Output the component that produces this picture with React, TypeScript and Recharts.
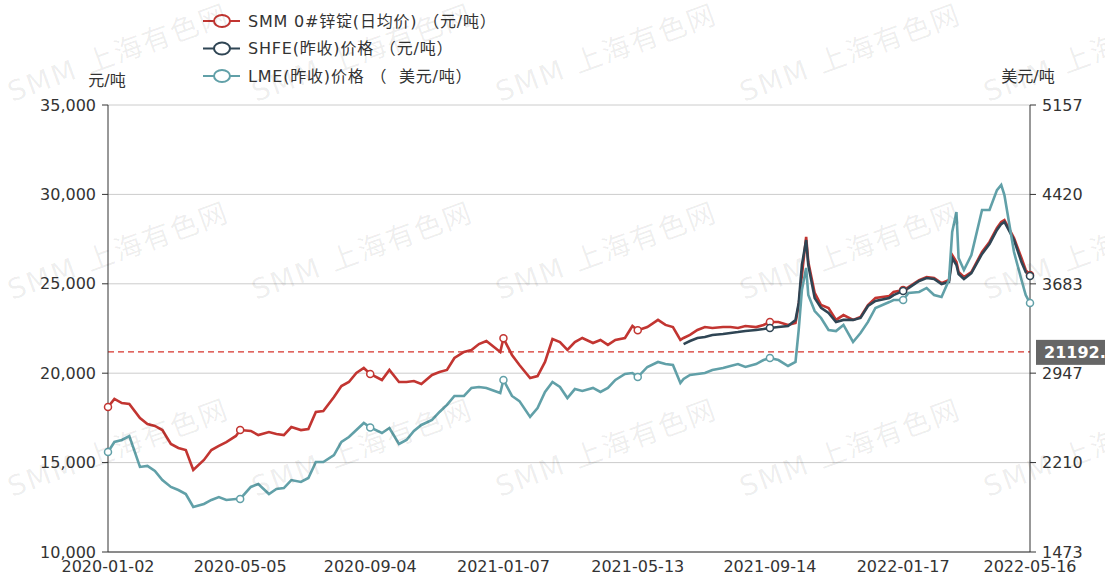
import React from 'react';
import { LineChart, Line, XAxis, YAxis, CartesianGrid, ReferenceLine } from 'recharts';

// ---- data ----
const dates: string[] = [
  '2020-01-02', '2020-01-08', '2020-01-15', '2020-01-22',
  '2020-02-01', '2020-02-08', '2020-02-15', '2020-02-22',
  '2020-03-01', '2020-03-08', '2020-03-15', '2020-03-22',
  '2020-04-01', '2020-04-08', '2020-04-15', '2020-04-22',
  '2020-05-01', '2020-05-05', '2020-05-15', '2020-05-22',
  '2020-06-01', '2020-06-08', '2020-06-15', '2020-06-22',
  '2020-07-01', '2020-07-08', '2020-07-15', '2020-07-22',
  '2020-08-01', '2020-08-08', '2020-08-15', '2020-08-22', '2020-08-29',
  '2020-09-04', '2020-09-15', '2020-09-22',
  '2020-10-01', '2020-10-08', '2020-10-15', '2020-10-22',
  '2020-11-01', '2020-11-08', '2020-11-15', '2020-11-22',
  '2020-12-01', '2020-12-08', '2020-12-15', '2020-12-22',
  '2021-01-04', '2021-01-07', '2021-01-15', '2021-01-22',
  '2021-02-01', '2021-02-08', '2021-02-15', '2021-02-22',
  '2021-03-01', '2021-03-08', '2021-03-15', '2021-03-22',
  '2021-04-01', '2021-04-08', '2021-04-15', '2021-04-22',
  '2021-05-01', '2021-05-08', '2021-05-13', '2021-05-22',
  '2021-06-01', '2021-06-08', '2021-06-15', '2021-06-22', '2021-06-25',
  '2021-07-01', '2021-07-08', '2021-07-15', '2021-07-22',
  '2021-08-01', '2021-08-08', '2021-08-15', '2021-08-22',
  '2021-09-01', '2021-09-08', '2021-09-14', '2021-09-22',
  '2021-10-01', '2021-10-08', '2021-10-11', '2021-10-14', '2021-10-18', '2021-10-20', '2021-10-26',
  '2021-11-01', '2021-11-08', '2021-11-15', '2021-11-22',
  '2021-12-01', '2021-12-08', '2021-12-15', '2021-12-22',
  '2022-01-04', '2022-01-08', '2022-01-17', '2022-01-22',
  '2022-02-01', '2022-02-08', '2022-02-15', '2022-02-22',
  '2022-03-01', '2022-03-04', '2022-03-08', '2022-03-10', '2022-03-15', '2022-03-22',
  '2022-04-01', '2022-04-08', '2022-04-15', '2022-04-19', '2022-04-22',
  '2022-05-01', '2022-05-08', '2022-05-12', '2022-05-16',
];

const smmPrice: number[] = [
  18110, 18560, 18330, 18280,
  17490, 17160, 17050, 16820,
  16040, 15820, 15700, 14590,
  15150, 15700, 15930, 16150,
  16490, 16820, 16770, 16540,
  16710, 16600, 16540, 16990,
  16820, 16880, 17830, 17890,
  18670, 19280, 19510, 20010, 20290,
  19960, 19620, 20180,
  19510, 19510, 19560, 19400,
  19900, 20070, 20180, 20850,
  21190, 21300, 21630, 21800,
  21190, 21950, 21020, 20460,
  19730, 19840, 20630, 21910,
  21740, 21300, 21740, 21970,
  21690, 21860, 21580, 21860,
  21970, 22640, 22400, 22580,
  22980, 22700, 22580, 21860, 21970,
  22140, 22420, 22580, 22530,
  22580, 22580, 22530, 22640,
  22580, 22700, 22860, 22860,
  22700, 22810, 23810, 25490, 27620, 26220, 24490,
  23810, 23650, 22980, 23250,
  22980, 23140, 23810, 24210,
  24320, 24540, 24650, 24820,
  25210, 25380, 25320, 25040,
  25210, 26610, 26220, 25660, 25380, 25660,
  26780, 27340, 28120, 28460, 28570,
  27560, 26440, 25770, 25490,
];

const shfeStart = '2021-06-25';
const shfePrice: number[] = [
  21630,
  21800, 21970, 22020, 22140,
  22190, 22250, 22300, 22360,
  22420, 22470, 22530, 22580,
  22640, 22980, 23930, 26050, 27450, 26050, 24210,
  23650, 23370, 22860, 22980,
  22980, 23090, 23760, 24040,
  24210, 24370, 24600, 24760,
  25160, 25320, 25270, 24990,
  25100, 26440, 26050, 25550, 25270, 25600,
  26670, 27230, 28010, 28340, 28460,
  27450, 26220, 25660, 25440,
];

const lmePrice: number[] = [
  2297, 2380, 2396, 2429,
  2174, 2182, 2141, 2066,
  2009, 1984, 1951, 1844,
  1869, 1902, 1926, 1902,
  1910, 1910, 2009, 2033,
  1951, 1992, 2000, 2066,
  2050, 2083, 2215, 2215,
  2272, 2380, 2421, 2478, 2536,
  2500, 2454, 2495,
  2363, 2396, 2470, 2520,
  2561, 2627, 2685, 2759,
  2759, 2825, 2833, 2825,
  2783, 2891, 2759, 2717,
  2586, 2660, 2792, 2874,
  2833, 2742, 2816, 2800,
  2825, 2792, 2825, 2891,
  2940, 2948, 2915, 2998,
  3039, 3022, 3014, 2866, 2899,
  2932, 2940, 2948, 2973,
  2989, 3006, 3022, 2998,
  3022, 3055, 3072, 3055,
  3006, 3039, 3303, 3632, 3814, 3591, 3459,
  3402, 3303, 3294, 3344,
  3204, 3278, 3369, 3484,
  3533, 3550, 3550, 3608,
  3616, 3649, 3591, 3575,
  3715, 4110, 4275, 3896, 3797, 3921,
  4292, 4292, 4456, 4498, 4415,
  3945, 3715, 3591, 3525,
];

const xTickLabels: string[] = [
  '2020-01-02', '2020-05-05', '2020-09-04', '2021-01-07',
  '2021-05-13', '2021-09-14', '2022-01-17', '2022-05-16',
];
const leftTicks: number[] = [10000, 15000, 20000, 25000, 30000, 35000];
const rightTicks: number[] = [1473, 2210, 2947, 3683, 4420, 5157];
const avgLine = 21192.8;
const seriesNames: string[] = [
  'SMM 0#锌锭(日均价) （元/吨）',
  'SHFE(昨收)价格 （元/吨）',
  'LME(昨收)价格 （  美元/吨）',
];
const leftUnit = '元/吨';
const rightUnit = '美元/吨';
const watermarkText = 'SMM 上海有色网';

const colors = ['#c23531', '#2f4554', '#61a0a8'];
const FONT = "'DejaVu Sans', 'Noto Sans CJK SC', sans-serif";

const toTime = (d: string) => Date.parse(d + 'T00:00:00Z');
const fmtDate = (t: number) => new Date(t).toISOString().slice(0, 10);

const shfeOffset = dates.indexOf(shfeStart);
const data = dates.map((d, i) => ({
  date: d,
  t: toTime(d),
  smm: smmPrice[i],
  shfe: i >= shfeOffset ? shfePrice[i - shfeOffset] : null,
  lme: lmePrice[i],
}));
const markerSet = new Set(xTickLabels);

const makeDot = (color: string) => (props: any) => {
  const { cx, cy, payload, index } = props;
  if (cx == null || cy == null || Number.isNaN(cy) || !payload || !markerSet.has(payload.date)) {
    return <g key={`d${index}`} />;
  }
  return <circle key={`d${index}`} cx={cx} cy={cy} r={3.5} fill="#fff" stroke={color} strokeWidth={1.5} />;
};

const RefLabel = (props: any) => {
  const vb = props.viewBox || {};
  const x = (vb.x ?? 108) + (vb.width ?? 922) + 6;
  const y = vb.y ?? 352;
  return (
    <g>
      <rect x={x} y={y - 12} width={80} height={25} fill="#666" />
      <text x={x + 8} y={y + 1} dominantBaseline="central" fill="#fff" fontWeight="bold" fontSize={16} fontFamily={FONT}>
        {String(avgLine)}
      </text>
    </g>
  );
};

const wmX = [12, 256, 500, 744, 988];
const wmY = [102, 300, 497];

export default function App() {
  return (
    <div style={{ position: 'absolute', left: 0, top: 0, width: 1105, height: 574, background: '#fff', fontFamily: FONT }}>
      <LineChart width={1105} height={574} data={data} margin={{ top: 105, right: 0, bottom: 0, left: 0 }}>
        <CartesianGrid yAxisId="left" vertical={false} stroke="#ccc" />
        <XAxis
          dataKey="t"
          type="number"
          domain={[toTime(dates[0]), toTime(dates[dates.length - 1])]}
          ticks={xTickLabels.map(toTime)}
          tickFormatter={fmtDate}
          interval={0}
          tickLine={false}
          tickMargin={3}
          height={22}
          axisLine={{ stroke: '#333' }}
          tick={{ fill: '#333', fontSize: 16 }}
        />
        <YAxis
          yAxisId="left"
          width={108}
          domain={[10000, 35000]}
          ticks={leftTicks}
          tickFormatter={(v: number) => v.toLocaleString('en-US')}
          tickSize={6}
          tickMargin={6}
          axisLine={{ stroke: '#333' }}
          tickLine={{ stroke: '#333' }}
          tick={{ fill: '#333', fontSize: 16 }}
          interval={0}
        />
        <YAxis
          yAxisId="right"
          orientation="right"
          width={75}
          domain={[1473, 5157]}
          ticks={rightTicks}
          tickSize={6}
          tickMargin={6}
          axisLine={{ stroke: '#333' }}
          tickLine={{ stroke: '#333' }}
          tick={{ fill: '#333', fontSize: 16 }}
          interval={0}
        />
        <ReferenceLine
          yAxisId="left"
          y={avgLine}
          stroke="#d6332c"
          strokeWidth={1.2}
          strokeDasharray="6 4"
          label={<RefLabel />}
        />
        <Line yAxisId="left" type="linear" dataKey="smm" name={seriesNames[0]} stroke={colors[0]} strokeWidth={2.6}
          dot={makeDot(colors[0])} activeDot={false} isAnimationActive={false} />
        <Line yAxisId="left" type="linear" dataKey="shfe" name={seriesNames[1]} stroke={colors[1]} strokeWidth={2.6}
          dot={makeDot(colors[1])} activeDot={false} connectNulls={false} isAnimationActive={false} />
        <Line yAxisId="right" type="linear" dataKey="lme" name={seriesNames[2]} stroke={colors[2]} strokeWidth={2.6}
          dot={makeDot(colors[2])} activeDot={false} isAnimationActive={false} />
      </LineChart>
      <svg width={1105} height={574} style={{ position: 'absolute', left: 0, top: 0, pointerEvents: 'none' }}>
        {seriesNames.map((name, i) => {
          const cy = 21 + i * 27.5;
          return (
            <g key={name}>
              <line x1={203} x2={240} y1={cy} y2={cy} stroke={colors[i]} strokeWidth={2} />
              <ellipse cx={222} cy={cy} rx={8} ry={6} fill="#fff" stroke={colors[i]} strokeWidth={2} />
              <text x={248} y={cy} dominantBaseline="central" fontSize={16} letterSpacing={0.8} fill="#333" fontFamily={FONT}
                style={{ whiteSpace: 'pre' }}>{name}</text>
            </g>
          );
        })}
        <text x={107} y={80} textAnchor="middle" dominantBaseline="central" fontSize={16} fill="#333" fontFamily={FONT}>{leftUnit}</text>
        <text x={1028} y={76} textAnchor="middle" dominantBaseline="central" fontSize={16} fill="#333" fontFamily={FONT}>{rightUnit}</text>
        {wmY.map((y) =>
          wmX.map((x) => (
            <text key={`${x}-${y}`} x={x} y={y} transform={`rotate(-20 ${x} ${y})`} fontSize={28} letterSpacing={2}
              fill="#000" fillOpacity={0.07} fontFamily={FONT}>{watermarkText}</text>
          ))
        )}
      </svg>
    </div>
  );
}
